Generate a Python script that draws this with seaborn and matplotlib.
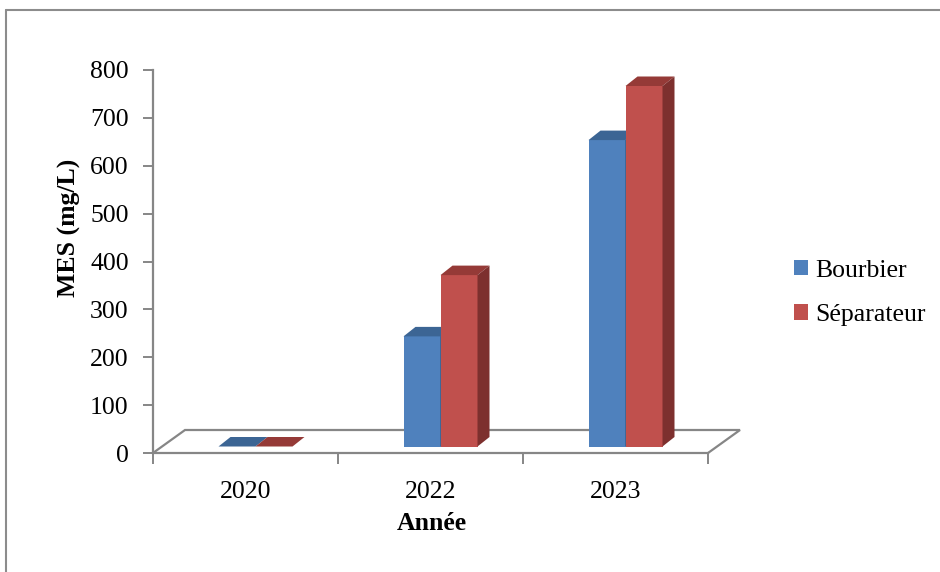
import numpy as np
import pandas as pd
import matplotlib
matplotlib.use("Agg")
import matplotlib.pyplot as plt
import seaborn as sns
from matplotlib.patches import Polygon, Patch
from matplotlib.lines import Line2D


# data
years = ["2020", "2022", "2023"]
bourbier = [0, 230, 640]
separateur = [0, 358, 753]
series = ["Bourbier", "Séparateur"]

front_colors = ["#4F81BD", "#C0504D"]
top_colors = ["#3C6594", "#953A37"]
side_colors = ["#2F4F75", "#7D302E"]
axis_grey = "#868686"

sns.set_style("white")
plt.rcParams["font.family"] = ["Liberation Serif", "DejaVu Serif"]
plt.rcParams["text.color"] = "black"
plt.rcParams["axes.labelcolor"] = "black"
plt.rcParams["xtick.labelcolor"] = "black"
plt.rcParams["ytick.labelcolor"] = "black"

df = pd.DataFrame({
    "Année": years * 2,
    "MES": bourbier + separateur,
    "Série": [series[0]] * len(years) + [series[1]] * len(years),
})

fig = plt.figure(figsize=(9.4, 5.72), dpi=100)
W, H = 940, 572
# front axis box: x 153..708 px, y 70..453 px
ax = fig.add_axes([153 / W, (H - 453) / H, (708 - 153) / W, (453 - 70) / H])

sns.barplot(data=df, x="Année", y="MES", hue="Série", hue_order=series,
            palette=front_colors, saturation=1, width=0.4, errorbar=None,
            legend=False, linewidth=0, ax=ax)

ax.set_xlim(-0.5, 2.5)
ax.set_ylim(0, 800)


def px_to_data(dx, dy):
    inv = ax.transData.inverted()
    x0, y0 = inv.transform((0, 0))
    x1, y1 = inv.transform((dx, dy))
    return x1 - x0, y1 - y0


# floor of the 3D chart (drawn behind the bars)
fx, fy = px_to_data(32, 23)
floor = Polygon([(-0.5, 0), (-0.5 + fx, fy), (2.5 + fx, fy), (2.5, 0)],
                closed=False, facecolor="white", edgecolor=axis_grey,
                linewidth=1.6, zorder=2, clip_on=False)
ax.add_patch(floor)

# bars sit part way into the floor, with a small depth
shift_x, shift_y = px_to_data(10, 6.5)
depth_x, depth_y = px_to_data(12, 9.5)

bars = list(ax.patches)
bars = [b for b in bars if b is not floor]
n = len(years)
for i, bar in enumerate(bars):
    level = i // n
    z = 3 + level
    bar.set_x(bar.get_x() + shift_x)
    bar.set_y(shift_y)
    bar.set_zorder(z)
    bar.set_clip_on(False)
    x0 = bar.get_x()
    x1 = x0 + bar.get_width()
    y0 = bar.get_y()
    y1 = y0 + bar.get_height()
    top = Polygon([(x0, y1), (x1, y1), (x1 + depth_x, y1 + depth_y), (x0 + depth_x, y1 + depth_y)],
                  closed=True, facecolor=top_colors[level], edgecolor="none",
                  zorder=z, clip_on=False)
    ax.add_patch(top)
    if bar.get_height() > 0:
        side = Polygon([(x1, y0), (x1 + depth_x, y0 + depth_y), (x1 + depth_x, y1 + depth_y), (x1, y1)],
                       closed=True, facecolor=side_colors[level], edgecolor="none",
                       zorder=z, clip_on=False)
        ax.add_patch(side)

# axes styling
for s in ["top", "right"]:
    ax.spines[s].set_visible(False)
for s in ["left", "bottom"]:
    ax.spines[s].set_color(axis_grey)
    ax.spines[s].set_linewidth(1.6)

ax.set_yticks(np.arange(0, 801, 100))
ax.tick_params(axis="y", which="major", direction="out", length=7, width=1.4,
               color=axis_grey, labelcolor="black", labelsize=18.5, pad=10.5, left=True)
ax.set_xticks(range(len(years)))
ax.set_xticklabels(years)
ax.set_xticks([-0.5, 0.5, 1.5, 2.5], minor=True)
ax.tick_params(axis="x", which="major", length=0, labelsize=18.5, labelcolor="black", pad=20)
ax.tick_params(axis="x", which="minor", direction="out", length=8, width=1.4,
               color=axis_grey, bottom=True)

ax.set_ylabel("MES (mg/L)", fontsize=18.5, fontweight="bold", va="center", color="black")
ax.yaxis.set_label_coords((69 - 153) / 555, (453 - 228) / 383)
ax.set_xlabel("Année", fontsize=18.5, fontweight="bold", va="center", color="black")
ax.xaxis.set_label_coords((432 - 153) / 555, (453 - 524) / 383)

handles = [Patch(facecolor=c, edgecolor="none") for c in front_colors]
fig.legend(handles, series, loc="center left", bbox_to_anchor=(771 / W, 1 - 293 / H),
           frameon=False, fontsize=18.5, handlelength=0.55, handleheight=0.55,
           handletextpad=0.28, labelspacing=0.87, borderpad=0.4, labelcolor="black")

# outer chart frame (only left and top edges are visible)
fig.add_artist(Line2D([5.5 / W, 5.5 / W], [0, 1 - 9.5 / H], color="#8c8c8c", linewidth=1.5))
fig.add_artist(Line2D([5.5 / W, 1], [1 - 9.5 / H, 1 - 9.5 / H], color="#8c8c8c", linewidth=1.5))

fig.savefig("out.png", dpi=100)
